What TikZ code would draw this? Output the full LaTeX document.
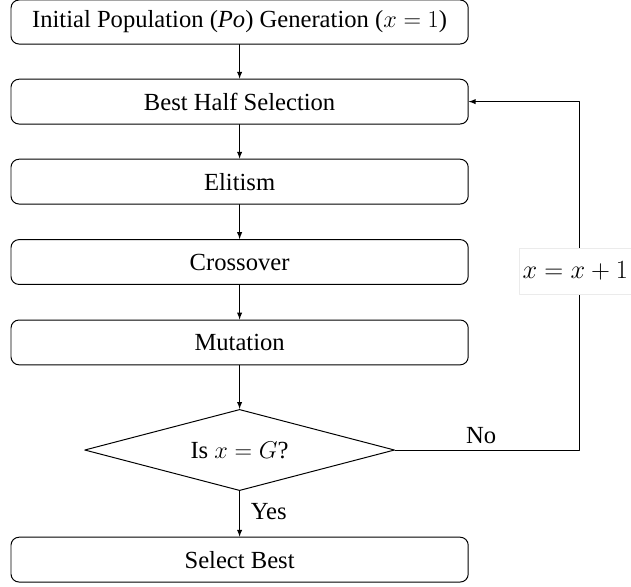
\documentclass[tikz,border=0pt]{standalone}
\usepackage{amsmath}
\usepackage{fontspec}
\setmainfont{Liberation Serif}
\usepackage{tikz}
\tikzset{>=latex}
\usetikzlibrary{shapes.geometric,arrows}
\tikzset{
  block/.style={draw,rounded corners=0.2cm,minimum width=11.43cm,minimum height=1.12cm,inner sep=0pt},
  decision/.style={draw,diamond,aspect=3.8,minimum width=7.75cm,minimum height=2.03cm,inner sep=0pt},
  flow/.style={->,line width=0.7pt}
}

\begin{document}
\begin{tikzpicture}[line cap=round,line join=round,x=1.0cm,y=1.0cm,line width=0.7pt,font=\fontsize{17.5}{20}\selectfont]
		\useasboundingbox (0,0) rectangle (15.775,-14.65);
		\node[block,minimum height=1.1cm] (init) at (5.99,-0.55) {Initial Population (\textit{Po}) Generation ($x = 1$)};
		\node[block] (half) at (5.99,-2.54) {Best Half Selection};
		\node[block] (elit) at (5.99,-4.54) {Elitism};
		\node[block] (cross) at (5.99,-6.55) {Crossover};
		\node[block] (mut) at (5.99,-8.56) {Mutation};
		\node[decision] (test) at (5.99,-11.25) {Is $x = G$?};
		\node[block] (best) at (5.99,-13.99) {Select Best};
		\coordinate (corner) at (14.49,-11.25);
		\coordinate (top) at (14.49,-2.54);
		\draw[flow] (init) -- (half);
		\draw[flow] (half) -- (elit);
		\draw[flow] (elit) -- (cross);
		\draw[flow] (cross) -- (mut);
		\draw[flow] (mut) -- (test);
		\draw[flow] (test) -- (best) node[pos=0.45,right=0.15cm] {Yes};
		\draw[flow] (test.east) -- (corner) -- (top) -- (half.east);
		\draw (12.03,-10.88) node (no) {No};
		\node[fill=white,draw=black!8,line width=0.5pt,minimum height=1.15cm,minimum width=3.4cm] (incr) at (14.68,-6.78) {};
		\node[scale=1.08] (incrtxt) at (14.38,-6.78) {$x = x + 1$};
		
		\end{tikzpicture}
\end{document}
